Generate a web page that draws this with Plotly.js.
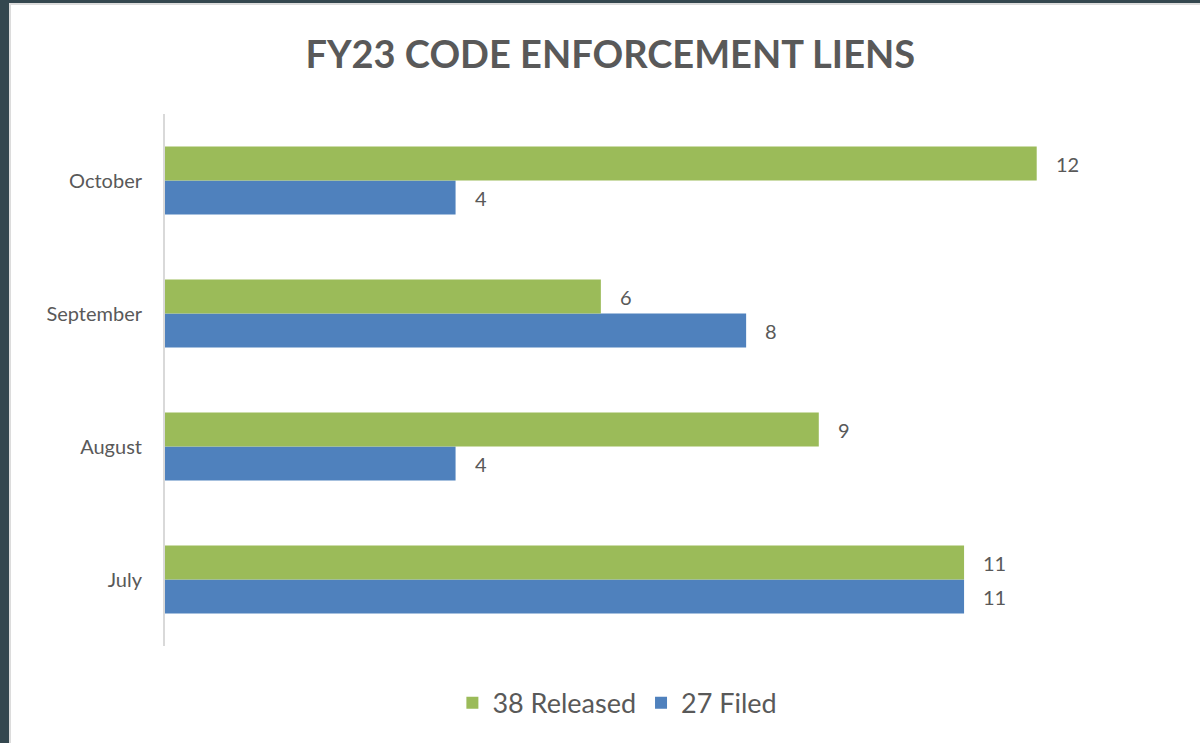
<!DOCTYPE html>
<html>
<head>
<meta charset="utf-8">
<script src="https://cdn.plot.ly/plotly-3.0.1.min.js"></script>
<style>
  html, body { margin: 0; padding: 0; background: #34474F; width: 1200px; height: 743px; overflow: hidden; }
  #chart { position: absolute; left: 9px; top: 3px; width: 1191px; height: 740px; background: #ffffff;
           border-left: 2px solid #dcdcdc; border-top: 2px solid #dcdcdc; box-sizing: border-box; }
</style>
</head>
<body>
<div id="chart"></div>
<script>
const months = ['July', 'August', 'September', 'October'];
const released = [11, 9, 6, 12];
const filed = [11, 4, 8, 4];
const releasedName = '38 Released';
const filedName = '27 Filed';
const titleText = 'FY23 CODE ENFORCEMENT LIENS';

const FONT = 'Lato, "Open Sans", sans-serif';
const GREEN = '#9BBB59';
const BLUE = '#4F81BD';
const TEXT = '#595959';

const traces = [
  { type: 'bar', orientation: 'h', name: filedName, y: months, x: filed,
    marker: { color: BLUE }, hoverinfo: 'x+name' },
  { type: 'bar', orientation: 'h', name: releasedName, y: months, x: released,
    marker: { color: GREEN }, hoverinfo: 'x+name' }
];

const annotations = [];
months.forEach((m, i) => {
  annotations.push({ x: released[i], y: m, xref: 'x', yref: 'y', text: String(released[i]),
    showarrow: false, xanchor: 'left', yanchor: 'middle', xshift: 17, yshift: 17,
    font: { family: FONT, size: 20, color: TEXT } });
  annotations.push({ x: filed[i], y: m, xref: 'x', yref: 'y', text: String(filed[i]),
    showarrow: false, xanchor: 'left', yanchor: 'middle', xshift: 17, yshift: -17,
    font: { family: FONT, size: 20, color: TEXT } });
});

const layout = {
  width: 1189, height: 738,
  paper_bgcolor: '#ffffff', plot_bgcolor: '#ffffff',
  margin: { l: 154, r: 18, t: 109, b: 97 },
  title: { text: '<b>' + titleText + '</b>', x: 0.504, xref: 'container', y: 0.932, yref: 'container',
           yanchor: 'middle', font: { family: FONT, size: 38, color: TEXT } },
  barmode: 'group', bargap: 0.49, bargroupgap: 0,
  xaxis: { range: [0, 14], visible: false, fixedrange: true },
  yaxis: { type: 'category', showline: true, linecolor: '#d9d9d9', linewidth: 2,
           showgrid: false, zeroline: false, ticks: '', ticklabelstandoff: 17,
           tickfont: { family: FONT, size: 20, color: TEXT }, fixedrange: true },
  showlegend: true,
  legend: { orientation: 'h', traceorder: 'reversed', x: 0.51, xref: 'container', xanchor: 'center',
            y: 0.054, yref: 'container', yanchor: 'middle',
            font: { family: FONT, size: 27, color: TEXT } },
  annotations: annotations
};

Plotly.newPlot('chart', traces, layout, { displayModeBar: false, staticPlot: false });
</script>
</body>
</html>
